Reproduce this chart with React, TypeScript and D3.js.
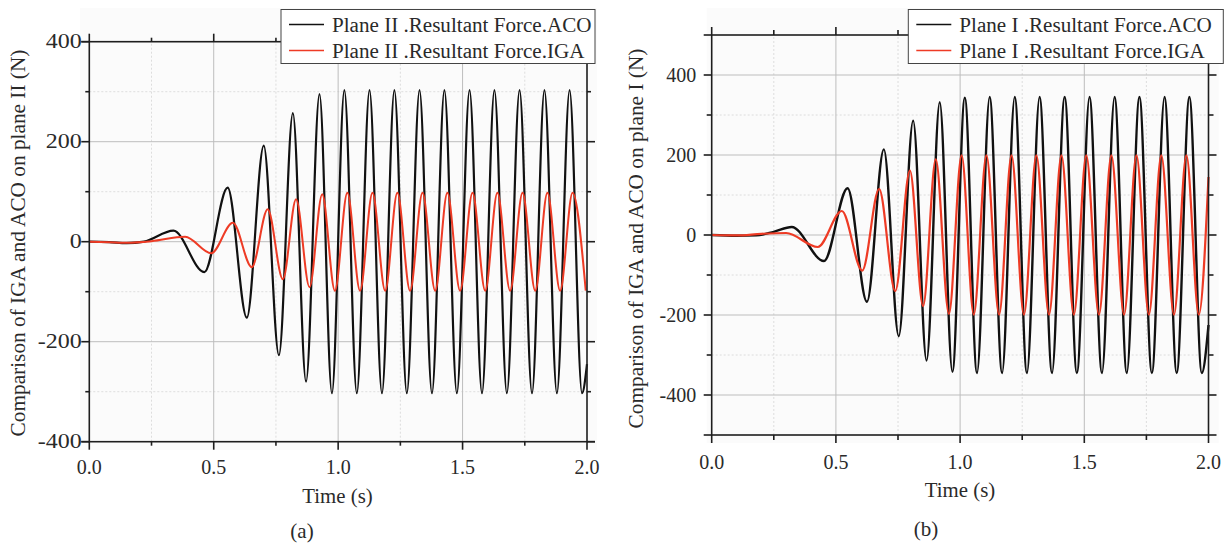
import React from "react";
import * as d3 from "d3";

// ---------- data ----------
const xMajorTicks = [0, 0.5, 1.0, 1.5, 2.0];
const xTickLabels = ["0.0", "0.5", "1.0", "1.5", "2.0"];
const xMinorTicks = [0.25, 0.75, 1.25, 1.75];
const yMajorTicksA = [-400, -200, 0, 200, 400];
const yMinorTicksA = [-300, -100, 100, 300];
const yMajorTicksB = [-400, -200, 0, 200, 400];
const yMinorTicksB = [-300, -100, 100, 300];

// Plane II (panel a): [time s, force N] at the turning points of each curve
const acoPlaneII: [number, number][] = [
  [0, 0], [0.08, -1], [0.15, -3], [0.22, 0], [0.338, 22], [0.462, -61], [0.556, 108],
  [0.633, -152], [0.701, 192], [0.762, -227], [0.818, 257], [0.871, -280], [0.925, 295],
  [0.975, -303], [1.025, 303], [1.075, -303], [1.126, 303], [1.176, -303], [1.226, 303],
  [1.276, -303], [1.327, 303], [1.377, -303], [1.427, 303], [1.477, -303], [1.528, 303],
  [1.578, -303], [1.628, 303], [1.678, -303], [1.729, 303], [1.779, -303], [1.829, 303],
  [1.879, -303], [1.930, 303], [1.980, -303], [2.0, -245],
];
const igaPlaneII: [number, number][] = [
  [0, 0], [0.08, -1], [0.15, -2], [0.25, 1], [0.385, 10], [0.490, -23], [0.577, 38],
  [0.653, -51], [0.717, 65], [0.778, -75], [0.831, 85], [0.885, -91], [0.936, 95],
  [0.987, -98], [1.037, 98], [1.088, -98], [1.138, 98], [1.189, -98], [1.238, 98],
  [1.289, -98], [1.339, 98], [1.390, -98], [1.439, 98], [1.490, -98], [1.540, 98],
  [1.591, -98], [1.640, 98], [1.691, -98], [1.741, 98], [1.792, -98], [1.841, 98],
  [1.892, -98], [1.942, 98], [1.995, -98],
];
// Plane I (panel b)
const acoPlaneI: [number, number][] = [
  [0, 0], [0.1, -2], [0.18, -1], [0.25, 8], [0.322, 20], [0.452, -65], [0.547, 117],
  [0.625, -167], [0.693, 214], [0.753, -253], [0.811, 286], [0.865, -314], [0.918, 332],
  [0.969, -342], [1.019, 343], [1.068, -345], [1.119, 345], [1.169, -345], [1.220, 345],
  [1.269, -345], [1.320, 345], [1.370, -345], [1.421, 345], [1.470, -345], [1.521, 345],
  [1.571, -345], [1.622, 345], [1.671, -345], [1.722, 345], [1.772, -345], [1.823, 345],
  [1.872, -345], [1.923, 345], [1.973, -345], [2.0, -225],
];
const igaPlaneI: [number, number][] = [
  [0, 0], [0.1, -1], [0.2, 3], [0.3, 5], [0.427, -30], [0.524, 60], [0.606, -89],
  [0.674, 115], [0.739, -140], [0.798, 161], [0.851, -178], [0.902, 189], [0.955, -197],
  [1.006, 199], [1.055, -199], [1.106, 199], [1.157, -199], [1.207, 199], [1.257, -199],
  [1.307, 199], [1.358, -199], [1.408, 199], [1.458, -199], [1.508, 199], [1.559, -199],
  [1.609, 199], [1.660, -199], [1.710, 199], [1.760, -199], [1.810, 199], [1.861, -199],
  [1.911, 199], [1.961, -199], [2.0, 145],
];

const legendA = ["Plane II .Resultant Force.ACO", "Plane II .Resultant Force.IGA"];
const legendB = ["Plane I .Resultant Force.ACO", "Plane I .Resultant Force.IGA"];

// ---------- styles ----------
const FONT = "'Liberation Serif', 'DejaVu Serif', serif";
const TEXT = "#2a2a2a";
const AXIS = "#1e1e1e";
const BLACK = "#111111";
const RED = "#ee3b25";

type PanelCfg = {
  left: number; right: number; top: number; bottom: number;
  yDomain: [number, number];
  yMajor: number[]; yMinor: number[];
  aco: [number, number][]; iga: [number, number][];
  legend: string[];
  legendBox: { x: number; y: number; w: number; h: number };
  bg: { x: number; y: number; w: number; h: number };
  yTitle: string; yTitleX: number; yTitleY: number;
  yLabelGap: number; yLabelStretch: number;
  xLabelDy: number;
  xTitleX: number; xTitleY: number;
  caption: string; captionX: number; captionY: number;
  lineW: number;
  tickMajor: number; tickMinor: number;
};

function Panel({ c }: { c: PanelCfg }) {
  const x = d3.scaleLinear().domain([0, 2]).range([c.left, c.right]);
  const y = d3.scaleLinear().domain(c.yDomain).range([c.bottom, c.top]);
  const line = d3
    .line<[number, number]>()
    .x((d) => x(d[0]))
    .y((d) => y(d[1]))
    .curve(d3.curveMonotoneX);
  const yLo = c.yDomain[0];
  const yHi = c.yDomain[1];
  const lb = c.legendBox;
  return (
    <g>
      <rect x={c.bg.x} y={c.bg.y} width={c.bg.w} height={c.bg.h} fill="#fbfbfb" />
      {/* grid */}
      {xMinorTicks.map((t) => (
        <line key={"gxm" + t} x1={x(t)} x2={x(t)} y1={y(yLo)} y2={y(yHi)}
          stroke="#d6d6d6" strokeWidth={0.8} strokeDasharray="2,2" />
      ))}
      {c.yMinor.map((v) => (
        <line key={"gym" + v} x1={x(0)} x2={x(2)} y1={y(v)} y2={y(v)}
          stroke="#d6d6d6" strokeWidth={0.8} strokeDasharray="2,2" />
      ))}
      {xMajorTicks.filter((t) => t > 0 && t < 2).map((t) => (
        <line key={"gx" + t} x1={x(t)} x2={x(t)} y1={y(yLo)} y2={y(yHi)}
          stroke="#bdbdbd" strokeWidth={1} />
      ))}
      {c.yMajor.filter((v) => v > yLo && v < yHi).map((v) => (
        <line key={"gy" + v} x1={x(0)} x2={x(2)} y1={y(v)} y2={y(v)}
          stroke="#bdbdbd" strokeWidth={1} />
      ))}
      {/* curves */}
      <path d={line(c.aco) || ""} fill="none" stroke={BLACK} strokeWidth={c.lineW} strokeLinejoin="round" />
      <path d={line(c.iga) || ""} fill="none" stroke={RED} strokeWidth={c.lineW - 0.2} strokeLinejoin="round" />
      {/* frame */}
      <rect x={x(0)} y={y(yHi)} width={x(2) - x(0)} height={y(yLo) - y(yHi)}
        fill="none" stroke={AXIS} strokeWidth={1.6} />
      {/* x ticks + labels */}
      {xMajorTicks.map((t, i) => (
        <g key={"xt" + t}>
          <line x1={x(t)} x2={x(t)} y1={y(yLo)} y2={y(yLo) + c.tickMajor} stroke={AXIS} strokeWidth={1.6} />
          <line x1={x(t)} x2={x(t)} y1={y(yHi)} y2={y(yHi) - c.tickMajor} stroke={AXIS} strokeWidth={1.6} />
          <text x={x(t)} y={y(yLo) + c.xLabelDy} textAnchor="middle" dominantBaseline="central"
            fontFamily={FONT} fontSize={20} fill={TEXT}>{xTickLabels[i]}</text>
        </g>
      ))}
      {xMinorTicks.map((t) => (
        <g key={"xmt" + t}>
          <line x1={x(t)} x2={x(t)} y1={y(yLo)} y2={y(yLo) + c.tickMinor} stroke={AXIS} strokeWidth={1.6} />
          <line x1={x(t)} x2={x(t)} y1={y(yHi)} y2={y(yHi) - c.tickMinor} stroke={AXIS} strokeWidth={1.6} />
        </g>
      ))}
      {/* y ticks + labels */}
      {c.yMajor.map((v) => (
        <g key={"yt" + v}>
          <line x1={x(0)} x2={x(0) - c.tickMajor} y1={y(v)} y2={y(v)} stroke={AXIS} strokeWidth={1.6} />
          <line x1={x(2)} x2={x(2) + c.tickMajor} y1={y(v)} y2={y(v)} stroke={AXIS} strokeWidth={1.6} />
          <text transform={`translate(${x(0) - c.yLabelGap},${y(v)}) scale(${c.yLabelStretch},1)`}
            textAnchor="end" dominantBaseline="central"
            fontFamily={FONT} fontSize={20} fill={TEXT}>{String(v)}</text>
        </g>
      ))}
      {c.yMinor.map((v) => (
        <g key={"ymt" + v}>
          <line x1={x(0)} x2={x(0) - c.tickMinor} y1={y(v)} y2={y(v)} stroke={AXIS} strokeWidth={1.6} />
          <line x1={x(2)} x2={x(2) + c.tickMinor} y1={y(v)} y2={y(v)} stroke={AXIS} strokeWidth={1.6} />
        </g>
      ))}
      {[yLo, yHi].map((v) => (
        <g key={"yend" + v}>
          <line x1={x(0)} x2={x(0) - c.tickMajor} y1={y(v)} y2={y(v)} stroke={AXIS} strokeWidth={1.6} />
          <line x1={x(2)} x2={x(2) + c.tickMajor} y1={y(v)} y2={y(v)} stroke={AXIS} strokeWidth={1.6} />
        </g>
      ))}
      {/* titles */}
      <text x={c.xTitleX} y={c.xTitleY} textAnchor="middle" dominantBaseline="central"
        fontFamily={FONT} fontSize={20.8} fill={TEXT}>Time (s)</text>
      <text transform={`translate(${c.yTitleX},${c.yTitleY}) rotate(-90)`} textAnchor="middle"
        dominantBaseline="central" fontFamily={FONT} fontSize={21.3} fill={TEXT}>{c.yTitle}</text>
      <text x={c.captionX} y={c.captionY} textAnchor="middle" dominantBaseline="central"
        fontFamily={FONT} fontSize={21} fill={TEXT}>{c.caption}</text>
      {/* legend */}
      <rect x={lb.x} y={lb.y} width={lb.w} height={lb.h} fill="#ffffff" stroke="#444" strokeWidth={1} />
      {[BLACK, RED].map((col, i) => (
        <g key={"lg" + i}>
          <line x1={lb.x + 8} x2={lb.x + 43} y1={lb.y + 15 + i * 26} y2={lb.y + 15 + i * 26}
            stroke={col} strokeWidth={1.6} />
          <text x={lb.x + 51} y={lb.y + 15 + i * 26} dominantBaseline="central"
            fontFamily={FONT} fontSize={21.1} fill={TEXT}>{c.legend[i]}</text>
        </g>
      ))}
    </g>
  );
}

const panelA: PanelCfg = {
  left: 89.3, right: 587, top: 41.7, bottom: 441.7,
  yDomain: [-400, 400], yMajor: yMajorTicksA, yMinor: yMinorTicksA,
  aco: acoPlaneII, iga: igaPlaneII, legend: legendA,
  legendBox: { x: 281, y: 9.5, w: 314, h: 54 },
  bg: { x: 80, y: 8, w: 517, h: 442 },
  yTitle: "Comparison of IGA and ACO on plane II (N)", yTitleX: 18, yTitleY: 243,
  yLabelGap: 7.5, yLabelStretch: 1.2, xLabelDy: 25, xTitleX: 337.5, xTitleY: 495,
  caption: "(a)", captionX: 302, captionY: 531, lineW: 2.2,
  tickMajor: 8, tickMinor: 4,
};

const panelB: PanelCfg = {
  left: 711.7, right: 1208.5, top: 35, bottom: 435,
  yDomain: [-500, 500], yMajor: yMajorTicksB, yMinor: yMinorTicksB,
  aco: acoPlaneI, iga: igaPlaneI, legend: legendB,
  legendBox: { x: 908.3, y: 9.5, w: 315, h: 54 },
  bg: { x: 706.7, y: 8, w: 512, h: 435 },
  yTitle: "Comparison of IGA and ACO on plane I (N)", yTitleX: 636, yTitleY: 238.5,
  yLabelGap: 15.5, yLabelStretch: 1.0, xLabelDy: 26.7, xTitleX: 960, xTitleY: 489,
  caption: "(b)", captionX: 926, captionY: 529, lineW: 2.4,
  tickMajor: 8, tickMinor: 5,
};

export default function App() {
  return (
    <svg width={1226} height={543} viewBox="0 0 1226 543"
      style={{ position: "absolute", left: 0, top: 0, background: "#ffffff" }}>
      <rect x={0} y={0} width={1226} height={543} fill="#ffffff" />
      <Panel c={panelA} />
      <Panel c={panelB} />
    </svg>
  );
}
